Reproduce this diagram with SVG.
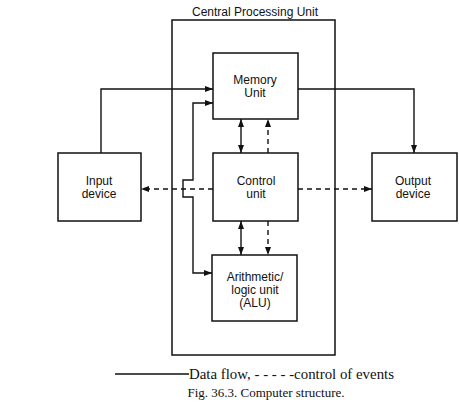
<svg xmlns="http://www.w3.org/2000/svg" width="459" height="403" viewBox="0 0 459 403">
<style>
.box{fill:none;stroke:#111;stroke-width:1.5}
.ln{fill:none;stroke:#111;stroke-width:1.4}
.dash{stroke-dasharray:5 4}
.lbl{font-family:"Liberation Sans",Arial,sans-serif;font-size:12px;fill:#111;text-anchor:middle}
.serif{font-family:"Liberation Serif","Times New Roman",serif;fill:#111}
</style>
<defs>
<marker id="ah" viewBox="0 0 8 6" refX="8" refY="3" markerWidth="8" markerHeight="6" markerUnits="userSpaceOnUse" orient="auto-start-reverse">
<path d="M0,0 L8,3 L0,6 Z" fill="#111"/>
</marker>
</defs>
<rect width="459" height="403" fill="#fff"/>
<g id="cpu">
<rect class="box" x="172" y="20" width="163" height="335"/>
<text class="lbl" x="255" y="16">Central Processing Unit</text>
</g>
<g id="memory">
<rect class="box" x="213" y="53" width="85" height="66" fill="#fff"/>
<text class="lbl" x="255" y="84">Memory</text>
<text class="lbl" x="255" y="97">Unit</text>
</g>
<g id="control">
<rect class="box" x="213" y="153" width="85" height="68"/>
<text class="lbl" x="256" y="185">Control</text>
<text class="lbl" x="256" y="198">unit</text>
</g>
<g id="alu">
<rect class="box" x="212" y="255" width="85" height="66"/>
<text class="lbl" x="255" y="281">Arithmetic/</text>
<text class="lbl" x="255" y="294">logic unit</text>
<text class="lbl" x="255" y="307">(ALU)</text>
</g>
<g id="input">
<rect class="box" x="58" y="153" width="83" height="68"/>
<text class="lbl" x="99" y="185">Input</text>
<text class="lbl" x="99" y="198">device</text>
</g>
<g id="output">
<rect class="box" x="372" y="153" width="85" height="68"/>
<text class="lbl" x="413" y="185">Output</text>
<text class="lbl" x="413" y="198">device</text>
</g>
<g id="connectors">
<path class="ln" d="M101,153 V89 H213" marker-end="url(#ah)"/>
<path class="ln" d="M298,89 H414 V153" marker-end="url(#ah)"/>
<path class="ln" d="M213,103 H193 V180 H183 V197 H193 V273 H212" marker-start="url(#ah)" marker-end="url(#ah)"/>
<path class="ln dash" d="M213,189 H141" marker-end="url(#ah)"/>
<path class="ln dash" d="M298,189 H372" marker-end="url(#ah)"/>
<path class="ln" d="M241,119 V153" marker-start="url(#ah)" marker-end="url(#ah)"/>
<path class="ln dash" d="M268,153 V119" marker-end="url(#ah)"/>
<path class="ln" d="M241,221 V255" marker-start="url(#ah)" marker-end="url(#ah)"/>
<path class="ln dash" d="M268,221 V255" marker-end="url(#ah)"/>
</g>
<g id="legend">
<line class="ln" x1="115" y1="374" x2="189" y2="374"/>
<text class="serif" x="189" y="379" font-size="15" textLength="205" lengthAdjust="spacingAndGlyphs">Data flow, - - - - -control of events</text>
<text class="serif" x="266" y="397" font-size="13" text-anchor="middle">Fig. 36.3. Computer structure.</text>
</g>
</svg>
